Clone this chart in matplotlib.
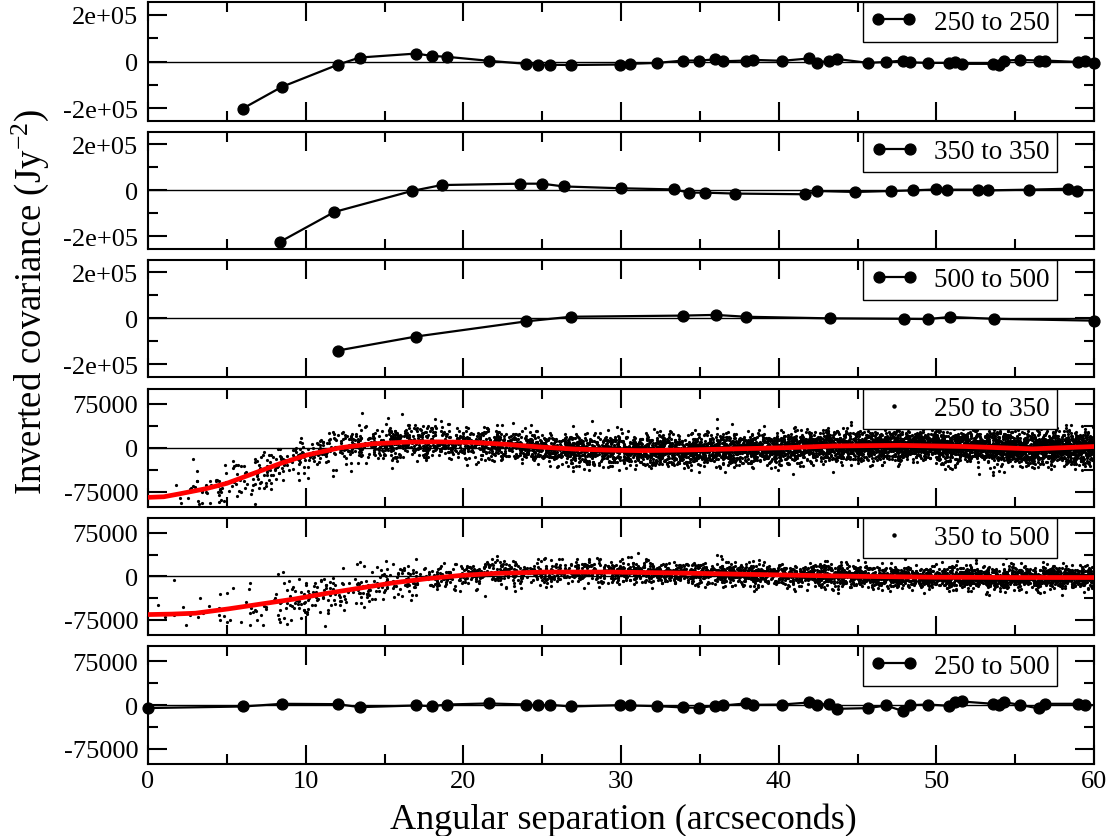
import numpy as np
import matplotlib
matplotlib.use("Agg")
import matplotlib.pyplot as plt
from matplotlib.ticker import MultipleLocator

plt.rcParams['font.family'] = ['Liberation Serif', 'DejaVu Serif']
plt.rcParams['mathtext.fontset'] = 'custom'
plt.rcParams['mathtext.rm'] = 'Liberation Serif'
plt.rcParams['mathtext.it'] = 'Liberation Serif:italic'

# ---------------- data ----------------
# 250 to 250
x_250_250 = [6.0, 8.48, 12.03, 13.42, 17.0, 18.0, 18.98, 21.6, 23.99, 24.75,
             25.47, 26.82, 29.95, 30.58, 32.3, 33.94, 34.96, 35.97, 36.48, 37.9,
             38.4, 40.22, 41.93, 42.42, 43.2, 43.69, 45.67, 46.8, 47.9, 48.36,
             49.48, 50.79, 51.2, 51.6, 53.6, 53.97, 54.3, 55.3, 56.5, 56.9,
             59.0, 59.4, 60.0]
y_250_250 = [-202000, -109000, -14000, 17000, 34000, 24000, 20000, 3000, -10000, -14000,
             -14000, -15000, -13000, -10000, -6000, 4000, 4000, 9000, 1000, 4000,
             7000, 3000, 13000, -6000, 3000, 11000, -6000, -2000, 4000, -4000,
             -6000, -6000, -3000, -10000, -10000, -13000, 4000, 7000, 4000, 4000,
             -2000, 4000, -8000]

# 350 to 350
x_350_350 = [8.37, 11.82, 16.72, 18.62, 23.59, 25.0, 26.36, 30.03, 33.35, 34.33,
             35.34, 37.22, 41.7, 42.44, 44.85, 47.11, 48.53, 49.97, 50.65, 52.65,
             53.3, 55.87, 58.32, 58.9]
y_350_350 = [-224000, -94000, -3000, 23000, 29000, 29000, 17000, 9000, 4000, -10000,
             -10000, -14000, -17000, -3000, -7000, -3000, 0, 4000, 3000, 3000,
             0, 3000, 7000, -3000]

# 500 to 500
x_500_500 = [12.03, 17.0, 24.0, 26.82, 33.94, 36.0, 37.9, 43.25, 47.96, 49.48,
             50.86, 53.65, 60.0]
y_500_500 = [-140000, -79000, -13000, 7000, 12000, 15000, 7000, 0, -2000, -3000,
             6000, -2000, -10000]

# 250 to 500
x_250_500 = [0.0, 6.04, 8.5, 12.03, 13.42, 17.0, 18.0, 18.98, 21.6, 24.0,
             24.75, 25.47, 26.82, 29.95, 30.58, 32.3, 33.94, 34.96, 35.97, 36.48,
             37.9, 38.4, 40.22, 41.93, 42.42, 43.2, 43.69, 45.67, 46.8, 47.9,
             48.36, 49.48, 50.79, 51.2, 51.6, 53.6, 53.97, 54.3, 55.3, 56.5,
             56.9, 59.0, 59.4]
y_250_500 = [-5000, -2300, 2300, 1700, -3400, -600, -1700, 1100, 2900, 1100,
             -600, 600, -2300, 0, -600, -1700, -4000, -4600, -1100, -600,
             2900, 600, 1100, 4600, 600, 2300, -6300, -5100, -600, -10300,
             0, 1100, -1100, 4600, 6300, 2300, 1100, 5100, 600, -5700,
             2300, 2300, -600]

# red fitted curves
fit_250_350_x = [0, 1, 2, 3.7, 5, 6.9, 8.4, 10.1, 12.2, 14.3, 16.4, 18.5, 20.7, 22.8,
                 24.9, 27.0, 29.1, 31.2, 34, 37.2, 40.5, 43.5, 47.7, 51.9, 56.1, 60]
fit_250_350_y = [-85000, -84000, -79000, -70000, -61000, -42000, -27000, -12400, 0, 6800,
                 9600, 10000, 9000, 5600, 1100, -2300, -4000, -5000, -4000, -2000,
                 0, 3000, 4000, 2000, -2000, 2000]

fit_350_500_x = [0, 1.5, 3.0, 5.1, 7.2, 9.3, 11.4, 13.5, 15.6, 17.7, 19.9, 22.0, 25.1,
                 29.4, 33, 37, 41, 45, 50, 55, 60]
fit_350_500_y = [-65800, -65000, -63500, -56000, -47500, -39000, -29000, -20000, -11000,
                 -4000, 1700, 5000, 7400, 7400, 6000, 4000, 2000, 0, -1500, -2000, -2000]

# scatter cloud envelopes (spread around the fit)
spread_x = [0, 10, 20, 30, 60]
spread_250_350 = [20000, 17000, 14000, 13500, 13500]
spread_350_500 = [24000, 19000, 12000, 10000, 10000]
n_points_250_350 = 6000
n_points_350_500 = 3200

labels = ['250 to 250', '350 to 350', '500 to 500', '250 to 350', '350 to 500', '250 to 500']

# dense point clouds: individual dots cannot be read, so they are a texture
rng = np.random.default_rng(7)


def cloud(n, fx, fy, sx, sy):
    x = 60 * np.sqrt(rng.random(n))
    y = np.interp(x, fx, fy) + rng.standard_normal(n) * np.interp(x, sx, sy)
    return x, y


cx4, cy4 = cloud(n_points_250_350, fit_250_350_x, fit_250_350_y, spread_x, spread_250_350)
cx5, cy5 = cloud(n_points_350_500, fit_350_500_x, fit_350_500_y, spread_x, spread_350_500)

# ---------------- figure ----------------
W, H = 1111, 837
fig = plt.figure(figsize=(W / 100, H / 100), dpi=100)
rows = [(3, 122), (132.7, 250), (260.7, 378), (389.7, 507.7), (518.7, 636), (647.3, 765)]
left_px, right_px = 148, 1094

axes = []
for (t, b) in rows:
    ax = fig.add_axes([left_px / W, 1 - b / H, (right_px - left_px) / W, (b - t) / H])
    axes.append(ax)

line_sets = {0: (x_250_250, y_250_250), 1: (x_350_350, y_350_350),
             2: (x_500_500, y_500_500), 5: (x_250_500, y_250_500)}

for i, ax in enumerate(axes):
    ax.axhline(0, color='black', lw=1.0, zorder=1)
    if i in line_sets:
        xs, ys = line_sets[i]
        ax.plot(xs, ys, '-o', color='black', lw=1.6, ms=7.8, label=labels[i], zorder=3,
                clip_on=False)
    elif i == 3:
        ax.plot(cx4, cy4, 'o', ls='none', color='black', ms=2.3, mew=0, label=labels[i], zorder=2)
        ax.plot(fit_250_350_x, fit_250_350_y, color='red', lw=3.4, zorder=3)
    elif i == 4:
        ax.plot(cx5, cy5, 'o', ls='none', color='black', ms=2.3, mew=0, label=labels[i], zorder=2)
        ax.plot(fit_350_500_x, fit_350_500_y, color='red', lw=3.4, zorder=3)

    ax.set_xlim(0, 60)
    if i < 3:
        ax.set_ylim(-255000, 255000)
        ax.set_yticks([-200000, 0, 200000])
        ax.set_yticklabels(['-2e+05', '0', '2e+05'])
        ax.yaxis.set_minor_locator(MultipleLocator(100000))
    else:
        ax.set_ylim(-101000, 101000)
        ax.set_yticks([-75000, 0, 75000])
        ax.set_yticklabels(['-75000', '0', '75000'])
        ax.yaxis.set_minor_locator(MultipleLocator(37500))
    ax.set_xticks(np.arange(0, 61, 10))
    ax.xaxis.set_minor_locator(MultipleLocator(5))
    ax.tick_params(which='both', direction='in', top=True, right=True, width=1.5,
                   labelsize=19, pad=7)
    ax.tick_params(axis='x', pad=4.5)
    ax.tick_params(which='major', length=14)
    ax.tick_params(which='minor', length=7)
    if i < 5:
        ax.tick_params(labelbottom=False)
    else:
        ax.set_xticklabels([str(v) for v in range(0, 61, 10)])
    for sp in ax.spines.values():
        sp.set_linewidth(1.5)

    leg = ax.legend(loc='upper right', bbox_to_anchor=(0.961, 1.0), borderaxespad=0,
                    frameon=True, fancybox=False, edgecolor='black', framealpha=1,
                    fontsize=19.5, handlelength=1.75, handletextpad=0.6, borderpad=0.28,
                    numpoints=2 if i in line_sets else 1,
                    markerscale=1.0 if i in line_sets else 1.4)
    leg.get_frame().set_linewidth(1.0)
    leg.set_zorder(10)

fig.text(30 / W, 1 - 302 / H, 'Inverted covariance (Jy$^{-2}$)', rotation=90,
         ha='center', va='center', fontsize=26.5)
fig.text(623 / W, 0.0, 'Angular separation (arcseconds)',
         ha='center', va='bottom', fontsize=26)

fig.savefig('out.png', dpi=100)
